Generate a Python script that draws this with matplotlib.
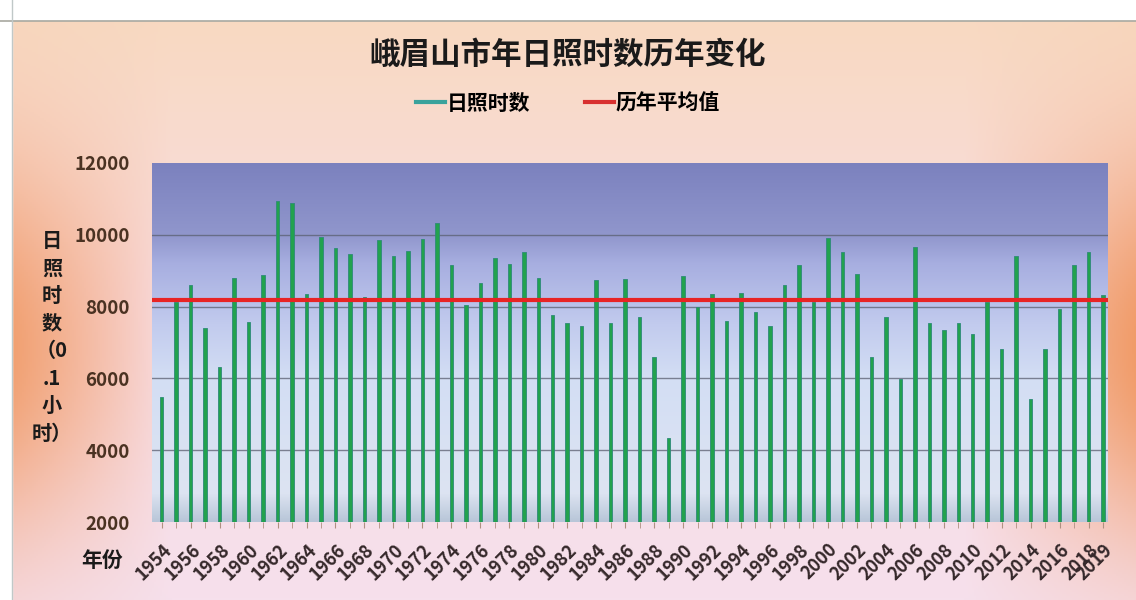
import numpy as np
import matplotlib
matplotlib.use('Agg')
from matplotlib import pyplot as plt
from matplotlib.lines import Line2D
from matplotlib.colors import LinearSegmentedColormap, to_rgb

plt.rcParams['font.family'] = ['Noto Sans CJK SC', 'DejaVu Sans']

years = list(range(1954, 2020))
sunshine = [5490, 8140, 8600, 7400, 6330, 8790, 7580, 8880, 10930, 10880,
            8350, 9930, 9630, 9470, 8280, 9860, 9400, 9560, 9880, 10330,
            9160, 8050, 8650, 9350, 9180, 9530, 8790, 7770, 7530, 7460,
            8740, 7530, 8760, 7720, 6600, 4330, 8860, 8000, 8350, 7610,
            8390, 7860, 7470, 8600, 9160, 8140, 9900, 9530, 8910, 6590,
            7720, 5970, 9670, 7530, 7350, 7550, 7230, 8140, 6820, 9400,
            5440, 6820, 7930, 9160, 9510, 8330]
mean_value = 8170
tick_years = list(range(1954, 2019, 2)) + [2019]

fig = plt.figure(figsize=(11.36, 6.0), dpi=100)

# background gradient of the chart area
bg = fig.add_axes([0, 0, 1, 1], zorder=-10)
h, w = 300, 568
yy = np.linspace(0, 1, h)[:, None]
xx = np.linspace(0, 1, w)[None, :]
top = np.array(to_rgb('#f8d9bf'))
mid = np.array(to_rgb('#f9dde2'))
bot = np.array(to_rgb('#f6e0ec'))
t = yy[..., None]
base = np.where(t < 0.5, top + (mid - top) * (t / 0.5), mid + (bot - mid) * ((t - 0.5) / 0.5))
base = np.broadcast_to(base, (h, w, 3)).copy()
orange = np.array(to_rgb('#f0955c'))
side = np.clip(1 - np.minimum(xx, 1 - xx) / 0.15, 0, 1) ** 0.9
vert = np.exp(-((yy - 0.58) / 0.32) ** 2)
wgt = (side * vert * 0.9)[..., None]
img = base * (1 - wgt) + orange * wgt
bg.imshow(img, extent=[0, 1, 0, 1], aspect='auto', origin='upper')
bg.fill_between([0, 1], 1 - 20 / 600, 1, color='white')
bg.fill_between([0, 12 / 1136], 0, 1, color='white')
bg.axhline(1 - 21 / 600, color='#a8a8a0', lw=1.2)
bg.axvline(12 / 1136, color='#c0c8c8', lw=1)
bg.set_xlim(0, 1)
bg.set_ylim(0, 1)
bg.axis('off')

ax = fig.add_axes([152 / 1136, 1 - 522 / 600, 956 / 1136, 359 / 600])
x = np.arange(len(years))
ax.set_xlim(-0.67, len(years) - 1 + 0.34)
ax.set_ylim(2000, 12000)

# plot area gradient
cmap = LinearSegmentedColormap.from_list('plotbg', [
    (0.0, '#b8c6d8'), (0.08, '#dde4f2'), (0.4, '#d3def4'),
    (0.55, '#c2cbee'), (0.72, '#a7aee0'), (0.8, '#9096cc'), (1.0, '#7b81be')])
grad = np.linspace(0, 1, 256)[:, None]
ax.imshow(grad, cmap=cmap, extent=[-0.67, len(years) - 1 + 0.34, 2000, 12000],
          aspect='auto', origin='lower', zorder=0)

for g in [4000, 6000, 8000, 10000]:
    ax.axhline(g, color='#5a5f70', lw=1.0, alpha=0.75, zorder=1)

ax.bar(x, np.array(sunshine) - 2000, bottom=2000, width=0.24,
       color='#22a24e', edgecolor='#2d8a78', linewidth=0.6, zorder=2)
ax.axhline(mean_value, color='#e82424', lw=3, zorder=3)

for s in ax.spines.values():
    s.set_visible(False)
ax.set_yticks([2000, 4000, 6000, 8000, 10000, 12000])
ax.set_yticklabels(['2000', '4000', '6000', '8000', '10000', '12000'],
                   fontsize=13.5, fontweight='bold', color='#4a3222')
ax.tick_params(axis='y', length=0, pad=16)
ax.set_xticks(x, minor=True)
ax.tick_params(axis='x', which='minor', length=4, color='#b09080')
ax.set_xticks([years.index(y) for y in tick_years])
ax.set_xticklabels([str(y) for y in tick_years], rotation=45, ha='right',
                   rotation_mode='anchor', fontsize=13, fontweight='bold',
                   color='#35282a')
ax.tick_params(axis='x', which='major', length=4, color='#b09080', pad=9)

fig.text(0.5, 1 - 55 / 600, '峨眉山市年日照时数历年变化', ha='center', va='center',
         fontsize=22, fontweight='bold', color='#1a1a1a')
handles = [Line2D([], [], color='#3aa29c', lw=3),
           Line2D([], [], color='#d83030', lw=3)]
fig.legend(handles, ['日照时数', '历年平均值'], loc='center',
           bbox_to_anchor=(0.5, 1 - 103 / 600), ncol=2, frameon=False,
           handlelength=1.4, handletextpad=0.1, columnspacing=2.6,
           prop={'size': 15, 'weight': 'bold'})

fig.text(52 / 1136, 1 - 337 / 600, '日\n照\n时\n数\n（0\n.1\n小\n时）', ha='center',
         va='center', fontsize=14.5, fontweight='bold', color='#1a1a1a',
         linespacing=1.38)
fig.text(102 / 1136, 1 - 560 / 600, '年份', ha='center', va='center',
         fontsize=15, fontweight='bold', color='#1a1a1a')

fig.savefig('out.png', dpi=100)
